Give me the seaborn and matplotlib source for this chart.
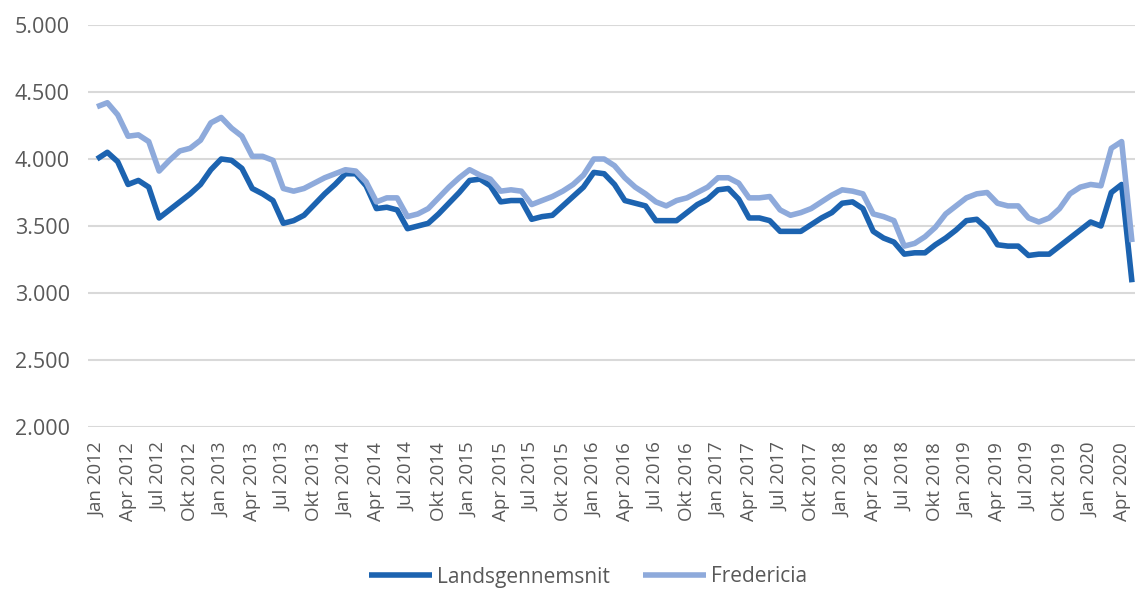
import numpy as np
import pandas as pd
import matplotlib
matplotlib.use("Agg")
import matplotlib.pyplot as plt
from matplotlib.ticker import FuncFormatter, FixedLocator
import seaborn as sns

# Monthly data Jan 2012 .. May 2020
landsgennemsnit = [
    4000, 4050, 3980, 3810, 3840, 3790, 3560, 3620, 3680, 3740, 3810, 3920,
    4000, 3990, 3930, 3780, 3740, 3690, 3520, 3540, 3580, 3660, 3740, 3810,
    3890, 3890, 3800, 3630, 3640, 3620, 3480, 3500, 3520, 3590, 3670, 3750,
    3840, 3850, 3800, 3680, 3690, 3690, 3550, 3570, 3580, 3650, 3720, 3790,
    3900, 3890, 3810, 3690, 3670, 3650, 3540, 3540, 3540, 3600, 3660, 3700,
    3770, 3780, 3700, 3560, 3560, 3540, 3460, 3460, 3460, 3510, 3560, 3600,
    3670, 3680, 3630, 3460, 3410, 3380, 3290, 3300, 3300, 3360, 3410, 3470,
    3540, 3550, 3480, 3360, 3350, 3350, 3280, 3290, 3290, 3350, 3410, 3470,
    3530, 3500, 3750, 3810, 3080,
]
fredericia = [
    4390, 4420, 4330, 4170, 4180, 4130, 3910, 3990, 4060, 4080, 4140, 4270,
    4310, 4230, 4170, 4020, 4020, 3990, 3780, 3760, 3780, 3820, 3860, 3890,
    3920, 3910, 3830, 3680, 3710, 3710, 3570, 3590, 3630, 3710, 3790, 3860,
    3920, 3880, 3850, 3760, 3770, 3760, 3660, 3690, 3720, 3760, 3810, 3880,
    4000, 4000, 3950, 3860, 3790, 3740, 3680, 3650, 3690, 3710, 3750, 3790,
    3860, 3860, 3820, 3710, 3710, 3720, 3620, 3580, 3600, 3630, 3680, 3730,
    3770, 3760, 3740, 3590, 3570, 3540, 3350, 3370, 3420, 3490, 3590, 3650,
    3710, 3740, 3750, 3670, 3650, 3650, 3560, 3530, 3560, 3630, 3740, 3790,
    3810, 3800, 4080, 4130, 3380,
]
series_names = ["Landsgennemsnit", "Fredericia"]
month_names = ["Jan", "Feb", "Mar", "Apr", "Maj", "Jun", "Jul", "Aug", "Sep", "Okt", "Nov", "Dec"]
y_ticks = [2000, 2500, 3000, 3500, 4000, 4500, 5000]

n = len(landsgennemsnit)
months = np.arange(n)
labels = [f"{month_names[m % 12]} {2012 + m // 12}" for m in months]

df = pd.DataFrame({
    "month": np.concatenate([months, months]),
    "value": landsgennemsnit + fredericia,
    "serie": [series_names[0]] * n + [series_names[1]] * n,
})

sns.set_style("white")
plt.rcParams["font.family"] = ["Open Sans", "DejaVu Sans"]

W, H = 1135, 589
fig = plt.figure(figsize=(W / 100, H / 100), dpi=100)
ax = fig.add_axes([88 / W, (H - 427) / H, 1 - 88 / W, (427 - 25) / H])

palette = {"Landsgennemsnit": "#1c63b0", "Fredericia": "#8eaadb"}
sns.lineplot(data=df, x="month", y="value", hue="serie", palette=palette,
             linewidth=4.0, ax=ax, legend=True, solid_capstyle="butt")

x0 = 97
step = 10.35
ax.set_xlim((88 - x0) / step, (1135 - x0) / step)
ax.set_ylim(2000, 5000)
ax.yaxis.set_major_locator(FixedLocator(y_ticks))
ax.yaxis.set_major_formatter(FuncFormatter(lambda v, p: f"{v:,.0f}".replace(",", ".")))
tick_pos = months[::3]
ax.set_xticks(tick_pos)
ax.set_xticklabels([labels[i] for i in tick_pos], rotation=90)
ax.tick_params(axis="x", length=0, pad=11, labelsize=13.5, labelcolor="#595959")
ax.tick_params(axis="y", length=0, pad=13, labelsize=15.5, labelcolor="#595959")
ax.grid(axis="y", color="#d9d9d9", linewidth=1.5)
ax.set_axisbelow(True)
for s in ax.spines.values():
    s.set_visible(False)
ax.set_xlabel("")
ax.set_ylabel("")

handles, labs = ax.get_legend_handles_labels()
ax.get_legend().remove()
fig.legend(handles, labs, loc="center", bbox_to_anchor=(588 / W, (H - 577) / H),
           ncol=2, frameon=False, fontsize=15, handlelength=3.0,
           columnspacing=1.6, handletextpad=0.25, labelcolor="#595959")

fig.savefig("out.png", dpi=100)
